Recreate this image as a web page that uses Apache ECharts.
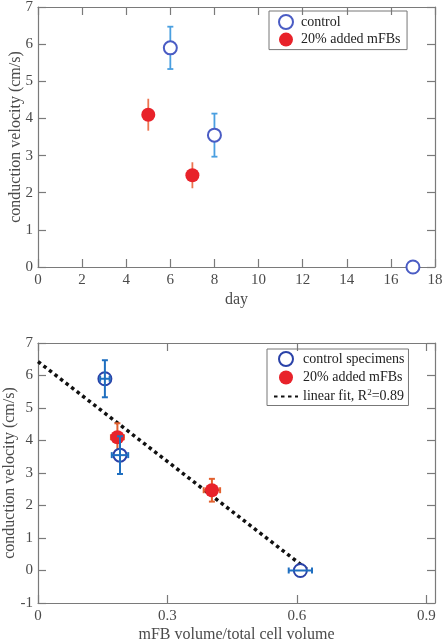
<!DOCTYPE html>
<html><head><meta charset="utf-8">
<script src="https://cdn.jsdelivr.net/npm/echarts@6/dist/echarts.min.js"></script>
<style>html,body{margin:0;padding:0;background:#fff}#c{width:444px;height:644px}</style>
</head><body><div id="c"></div>
<script>
// ---- data ----
const controlDay = [6, 8, 17];
const controlCV = [5.9, 3.55, 0];
const controlCVErr = [0.57, 0.58, 0];
const mfbDay = [5, 7];
const mfbCV = [4.1, 2.47];
const mfbCVErr = [0.43, 0.35];

const controlFrac = [0.155, 0.19, 0.608];
const controlFracErr = [0.011, 0.019, 0.027];
const mfbFrac = [0.184, 0.403];
const mfbFracErr = [0.015, 0.019];

const fitX = [0, 0.627];
const fitY = [6.43, 0.0];

const dayTicksInterval = 2;
const cvTicksInterval = 1;
const fracTicksInterval = 0.3;

// ---- helpers ----
const FONT = 'Liberation Serif';
const AX = '#7a7a7a';
const LBL = '#4a4a4a';

function rows(xs, ys, yerr, xerr) {
  return xs.map((x, i) => [x, ys[i], yerr ? yerr[i] : 0, xerr ? xerr[i] : 0]);
}
function errRenderer(color, yCap, xCap, lw) {
  return function (params, api) {
    const x = api.value(0), y = api.value(1), ye = api.value(2), xe = api.value(3);
    const ch = [];
    const st = { stroke: color, lineWidth: lw };
    if (ye > 0) {
      const a = api.coord([x, y + ye]), b = api.coord([x, y - ye]);
      ch.push({ type: 'line', shape: { x1: a[0], y1: a[1], x2: b[0], y2: b[1] }, style: st });
      if (yCap) {
        ch.push({ type: 'line', shape: { x1: a[0] - yCap, y1: a[1], x2: a[0] + yCap, y2: a[1] }, style: st });
        ch.push({ type: 'line', shape: { x1: b[0] - yCap, y1: b[1], x2: b[0] + yCap, y2: b[1] }, style: st });
      }
    }
    if (xe > 0) {
      const a = api.coord([x - xe, y]), b = api.coord([x + xe, y]);
      ch.push({ type: 'line', shape: { x1: a[0], y1: a[1], x2: b[0], y2: b[1] }, style: st });
      if (xCap) {
        ch.push({ type: 'line', shape: { x1: a[0], y1: a[1] - xCap, x2: a[0], y2: a[1] + xCap }, style: st });
        ch.push({ type: 'line', shape: { x1: b[0], y1: b[1] - xCap, x2: b[0], y2: b[1] + xCap }, style: st });
      }
    }
    return { type: 'group', children: ch };
  };
}
const axLine = { onZero: false, lineStyle: { color: AX, width: 1.2 } };
const axTick = { inside: true, length: 8, lineStyle: { color: AX, width: 1.2 } };
function xAxes(gi, min, max, interval, name, nameGap) {
  return [
    { type: 'value', gridIndex: gi, min, max, interval, position: 'bottom',
      name, nameLocation: 'middle', nameGap, nameMoveOverlap: false,
      nameTextStyle: { fontFamily: FONT, fontSize: 16, color: LBL },
      axisLine: axLine, axisTick: axTick,
      axisLabel: { fontFamily: FONT, fontSize: 15, color: LBL, margin: 6, showMaxLabel: max % interval === 0,
        formatter: v => String(Math.round(v * 10) / 10) },
      splitLine: { show: false } },
    { type: 'value', gridIndex: gi, min, max, interval, position: 'top',
      axisLine: axLine, axisTick: axTick,
      axisLabel: { show: false }, splitLine: { show: false } }
  ];
}
function yAxes(gi, min, max, name, nameGap) {
  return [
    { type: 'value', gridIndex: gi, min, max, interval: cvTicksInterval, position: 'left',
      name, nameLocation: 'middle', nameGap, nameMoveOverlap: false,
      nameTextStyle: { fontFamily: FONT, fontSize: 16, color: LBL },
      axisLine: axLine, axisTick: axTick,
      axisLabel: { fontFamily: FONT, fontSize: 15, color: LBL, margin: 5 },
      splitLine: { show: false } },
    { type: 'value', gridIndex: gi, min, max, interval: cvTicksInterval, position: 'right',
      axisLine: axLine, axisTick: axTick,
      axisLabel: { show: false }, splitLine: { show: false } }
  ];
}

const chart = echarts.init(document.getElementById('c'), null, { renderer: 'canvas' });
const legendText = {
  fontFamily: FONT, fontSize: 14, color: '#222',
  rich: {
    a: { fontFamily: FONT, fontSize: 14, color: '#222' },
    s: { fontFamily: FONT, fontSize: 9, color: '#222', verticalAlign: 'top', padding: [0, 0, 8, 0] }
  }
};
const fitName = 'linear fit, R²=0.89';
chart.setOption({
  animation: false,
  backgroundColor: '#fff',
  grid: [
    { left: 38, right: 9, top: 7, height: 260, containLabel: false, outerBoundsMode: 'none' },
    { left: 38, right: 9, top: 343, height: 260, containLabel: false, outerBoundsMode: 'none' }
  ],
  xAxis: [...xAxes(0, 0, 18, dayTicksInterval, 'day', 25), ...xAxes(1, 0, 0.92, fracTicksInterval, 'mFB volume/total cell volume', 24)],
  yAxis: [...yAxes(0, 0, 7, 'conduction velocity (cm/s)', 14), ...yAxes(1, -1, 7, 'conduction velocity (cm/s)', 20)],
  legend: [
    { orient: 'vertical', left: 269, top: 11, itemGap: 2.6, itemWidth: 20, itemHeight: 14,
      padding: [3, 3, 3, 9], borderColor: '#777', borderWidth: 1, borderRadius: 0,
      textStyle: legendText, data: ['control', '20% added mFBs '] },
    { orient: 'vertical', left: 267, top: 349, itemGap: 3.5, itemWidth: 24, itemHeight: 14,
      padding: [2, 4, 2, 6], borderColor: '#777', borderWidth: 1, borderRadius: 0,
      textStyle: legendText,
      formatter: n => n === fitName ? '{a|linear fit, R}{s|2}{a|=0.89}' : n,
      data: ['control specimens', '20% added mFBs',
        { name: fitName, itemStyle: { color: 'rgba(0,0,0,0)', borderWidth: 0, opacity: 0 } }] }
  ],
  series: [
    // top chart
    { type: 'custom', xAxisIndex: 0, yAxisIndex: 0, data: rows(controlDay, controlCV, controlCVErr),
      renderItem: errRenderer('#4a9fe0', 3, 0, 1.8), encode: { x: 0, y: 1 }, silent: true, z: 2 },
    { type: 'custom', xAxisIndex: 0, yAxisIndex: 0, data: rows(mfbDay, mfbCV, mfbCVErr),
      renderItem: errRenderer('#ec7450', 0, 0, 1.8), encode: { x: 0, y: 1 }, silent: true, z: 2 },
    { name: 'control', type: 'scatter', xAxisIndex: 0, yAxisIndex: 0, symbol: 'emptyCircle', symbolSize: 13,
      itemStyle: { color: '#4a5cc4', borderWidth: 1.3, opacity: 1 }, data: controlDay.map((d, i) => [d, controlCV[i]]), z: 3 },
    { name: '20% added mFBs ', type: 'scatter', xAxisIndex: 0, yAxisIndex: 0, symbol: 'circle', symbolSize: 14,
      itemStyle: { color: '#e8222a', opacity: 1 }, data: mfbDay.map((d, i) => [d, mfbCV[i]]), z: 3 },
    // bottom chart
    { name: fitName, type: 'line', xAxisIndex: 2, yAxisIndex: 2, symbol: 'none',
      lineStyle: { color: '#111', width: 3.5, type: [3.5, 3.5] }, data: fitX.map((x, i) => [x, fitY[i]]), z: 2 },
    { type: 'custom', xAxisIndex: 2, yAxisIndex: 2, data: rows(mfbFrac, mfbCV, mfbCVErr, mfbFracErr),
      renderItem: errRenderer('#e2602e', 3, 3, 2), encode: { x: 0, y: 1 }, silent: true, z: 3 },
    { name: '20% added mFBs', type: 'scatter', xAxisIndex: 2, yAxisIndex: 2, symbol: 'circle', symbolSize: 14,
      itemStyle: { color: '#e8222a', opacity: 1 }, data: mfbFrac.map((d, i) => [d, mfbCV[i]]), z: 4 },
    { name: 'control specimens', type: 'scatter', xAxisIndex: 2, yAxisIndex: 2, symbol: 'emptyCircle', symbolSize: 13,
      itemStyle: { color: '#2a42a8', borderWidth: 2, opacity: 1 }, data: controlFrac.map((d, i) => [d, controlCV[i]]), z: 5 },
    { type: 'custom', xAxisIndex: 2, yAxisIndex: 2, data: rows(controlFrac, controlCV, controlCVErr, controlFracErr),
      renderItem: errRenderer('#1f6fc0', 3, 3, 2), encode: { x: 0, y: 1 }, silent: true, z: 6 }
  ]
});
</script></body></html>
